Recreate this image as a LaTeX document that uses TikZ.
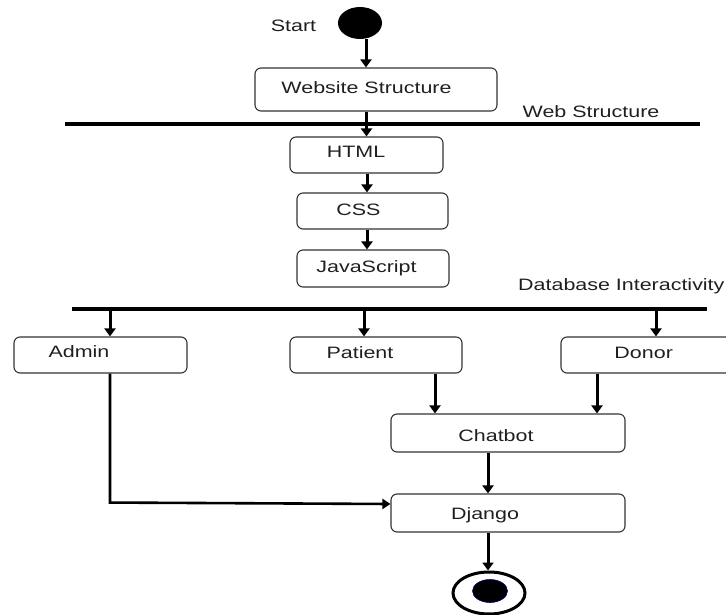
\documentclass[tikz,border=0pt]{standalone}
\usepackage{fontspec}
\setmainfont{Liberation Sans}[FakeStretch=1.3]
\usetikzlibrary{arrows.meta,shapes.geometric}
\begin{document}
\begin{tikzpicture}[x=1pt,y=-1pt,
  box/.style={draw=black!80, line width=1.1pt, rounded corners=6pt, inner sep=0pt, rectangle},
  lbl/.style={font=\fontsize{16.5}{19}\selectfont, text=black!88, inner sep=0pt, anchor=base},
  flow/.style={line width=3pt, -{Triangle[width=11pt,length=8pt]}},
  thinflow/.style={line width=2.6pt, -{Triangle[width=10pt,length=8pt]}},
  link/.style={line width=3pt},
  bar/.style={line width=3.5pt}]
\useasboundingbox (0,0) rectangle (726,615);

% start / end
\node[ellipse, fill=black, minimum width=44pt, minimum height=32pt, inner sep=0pt] (start) at (360,23) {};
\node[ellipse, draw=black, line width=3pt, minimum width=72pt, minimum height=42pt, inner sep=0pt] (end) at (489,593) {};
\node[ellipse, fill=black, draw=blue!50!black, line width=0.6pt, minimum width=35pt, minimum height=23pt, inner sep=0pt] (endin) at (490,591) {};

% boxes
\node[box, minimum width=242pt, minimum height=43pt] (website) at (376,89.5) {};
\node[box, minimum width=153pt, minimum height=36pt] (html) at (366.5,155) {};
\node[box, minimum width=151pt, minimum height=36pt] (css) at (372.5,211) {};
\node[box, minimum width=152pt, minimum height=37pt] (js) at (373,268.5) {};
\node[box, minimum width=173pt, minimum height=36pt] (admin) at (100.5,355) {};
\node[box, minimum width=172pt, minimum height=36pt] (patient) at (376,355) {};
\node[box, minimum width=171pt, minimum height=36pt] (donor) at (646.5,355) {};
\node[box, minimum width=234pt, minimum height=38pt] (chatbot) at (508,433) {};
\node[box, minimum width=234pt, minimum height=38pt] (django) at (508,513) {};

% labels
\node[lbl] (tstart) at (293.5,31.5) {Start};
\node[lbl] (twebsite) at (366.5,94) {Website Structure};
\node[lbl] (twebs) at (591,118) {Web Structure};
\node[lbl] (thtml) at (356,158) {HTML};
\node[lbl] (tcss) at (358.5,215) {CSS};
\node[lbl] (tjs) at (366.5,272.7) {JavaScript};
\node[lbl, anchor=base west] (tdb) at (518,290.7) {Database Interactivity};
\node[lbl] (tadmin) at (79,357.7) {Admin};
\node[lbl] (tpatient) at (360,358) {Patient};
\node[lbl] (tdonor) at (643.7,358.3) {Donor};
\node[lbl] (tchat) at (496,441.7) {Chatbot};
\node[lbl] (tdjango) at (485,519) {Django};

% bars
\coordinate (b1l) at (65,124);
\coordinate (b1r) at (700,124);
\coordinate (b2l) at (72,309);
\coordinate (b2r) at (707,309);
\draw[bar] (b1l) -- (b1r);
\draw[bar] (b2l) -- (b2r);

% connectors
\draw[flow] ([xshift=6pt]start.south) -- ([xshift=-10pt]website.north);
\draw[link] ([xshift=-10pt]website.south) -- ([xshift=-10pt]website.south |- b1l);
\draw[flow] (html.north |- b1l) -- (html.north);
\draw[flow] ([xshift=0.5pt]html.south) -- ([xshift=0.5pt]html.south |- css.north);
\draw[flow] ([xshift=-5.5pt]css.south) -- ([xshift=-5.5pt]css.south |- js.north);
\draw[flow] ([xshift=9.5pt]admin.north |- b2l) -- ([xshift=9.5pt]admin.north);
\draw[flow] ([xshift=-12pt]patient.north |- b2l) -- ([xshift=-12pt]patient.north);
\draw[flow] ([xshift=9.5pt]donor.north |- b2l) -- ([xshift=9.5pt]donor.north);
\draw[flow] ([xshift=59pt]patient.south) -- ([xshift=59pt]patient.south |- chatbot.north);
\draw[flow] ([xshift=-49.5pt]donor.south) -- ([xshift=-49.5pt]donor.south |- chatbot.north);
\draw[flow] ([xshift=-20pt]chatbot.south) -- ([xshift=-20pt]chatbot.south |- django.north);
\draw[flow] ([xshift=-20pt]django.south) -- ([xshift=-20pt]django.south |- end.north);
\draw[thinflow] ([xshift=9.5pt]admin.south) -- ++(0,129) -- ([yshift=9pt]django.west);
\end{tikzpicture}
\end{document}
